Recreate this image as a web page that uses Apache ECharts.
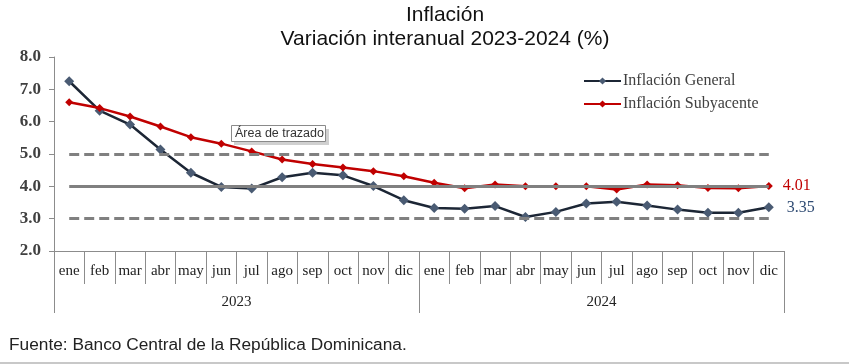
<!DOCTYPE html>
<html><head><meta charset="utf-8">
<script src="https://cdn.jsdelivr.net/npm/echarts@6/dist/echarts.min.js"></script>
<style>html,body{margin:0;padding:0;background:#fff}#c{width:849px;height:364px}</style>
</head><body><div id="c"></div>
<script>
var months = ['ene','feb','mar','abr','may','jun','jul','ago','sep','oct','nov','dic','ene','feb','mar','abr','may','jun','jul','ago','sep','oct','nov','dic'];
var years = ['2023','2024'];
var general = [7.25,6.34,5.91,5.14,4.42,3.98,3.93,4.28,4.42,4.34,4.01,3.57,3.33,3.31,3.39,3.05,3.21,3.47,3.52,3.41,3.28,3.18,3.18,3.35];
var subyacente = [6.60,6.42,6.16,5.85,5.52,5.32,5.08,4.83,4.69,4.58,4.47,4.31,4.11,3.94,4.06,4.00,4.00,4.00,3.90,4.06,4.03,3.95,3.94,4.01];
var targetLow = 3.0, targetMid = 4.0, targetHigh = 5.0;
var yTicks = [2,3,4,5,6,7,8];

var serif = 'Liberation Serif';
var chart = echarts.init(document.getElementById('c'), null, {renderer:'canvas'});
var last = months.length - 1;
function refLine(v, type){
  return [{coord:[0, v], lineStyle:{type:type}}, {coord:[last, v]}];
}
chart.setOption({
  animation:false,
  title:{
    text:'Inflación\nVariación interanual 2023-2024 (%)',
    left:445, top:3, textAlign:'center', padding:0,
    textStyle:{fontFamily:'Liberation Sans', fontSize:21, fontWeight:'normal', color:'#111', lineHeight:24}
  },
  legend:{
    orient:'vertical', left:578, top:68, itemGap:7, itemWidth:37, itemHeight:9,
    data:['Inflación General','Inflación Subyacente'],
    textStyle:{fontFamily:serif, fontSize:16, color:'#404040', padding:[0,0,0,-3]}
  },
  grid:{left:54, right:65, top:57, bottom:113, containLabel:false},
  xAxis:[{
    type:'category', data:months, boundaryGap:true, position:'bottom',
    axisLine:{lineStyle:{color:'#8c8c8c', width:1}},
    axisTick:{show:true, interval:0, length:33, lineStyle:{color:'#8c8c8c'}},
    axisLabel:{interval:0, margin:13, fontFamily:serif, fontSize:15, color:'#222'}
  },{
    type:'category', data:years, boundaryGap:true, position:'bottom', offset:33,
    axisLine:{show:false},
    axisTick:{show:true, interval:0, length:29, lineStyle:{color:'#8c8c8c'}},
    axisLabel:{interval:0, margin:11, fontFamily:serif, fontSize:15, color:'#222'}
  }],
  yAxis:{
    type:'value', min:yTicks[0], max:yTicks[yTicks.length-1], interval:1,
    axisLine:{show:true, lineStyle:{color:'#8c8c8c'}},
    axisTick:{show:true, length:5, lineStyle:{color:'#8c8c8c'}},
    splitLine:{show:false},
    axisLabel:{margin:13, fontFamily:serif, fontWeight:'bold', fontSize:17, color:'#404040',
      formatter:function(v){return v.toFixed(1);}}
  },
  series:[{
    name:'ref', type:'line', data:[], z:1, silent:true,
    markLine:{
      silent:true, symbol:'none', label:{show:false},
      lineStyle:{color:'#808080', width:3},
      data:[refLine(targetHigh,[10,5]), refLine(targetMid,'solid'), refLine(targetLow,[10,5])]
    }
  },{
    name:'Inflación General', type:'line', data:general, z:3,
    symbol:'diamond', symbolSize:10,
    lineStyle:{color:'#1c2635', width:2.5},
    itemStyle:{color:'#4a5b73', borderWidth:0},
    endLabel:{show:true, distance:18, fontFamily:serif, fontSize:16, color:'#2f4b73',
      formatter:function(p){return p.value.toFixed(2);}}
  },{
    name:'Inflación Subyacente', type:'line', data:subyacente, z:4,
    symbol:'diamond', symbolSize:8,
    lineStyle:{color:'#c00000', width:2.5},
    itemStyle:{color:'#c00000', borderWidth:0},
    endLabel:{show:true, distance:14, fontFamily:serif, fontSize:16, color:'#c00000',
      formatter:function(p){return p.value.toFixed(2);}}
  }],
  graphic:[
    {type:'rect', shape:{x:234, y:129, width:95, height:16}, style:{fill:'#d0d0d0'}, z:100},
    {type:'rect', shape:{x:231.5, y:125.5, width:94, height:16}, style:{fill:'#fff', stroke:'#8a8a8a', lineWidth:1}, z:101},
    {type:'text', left:235, top:127, style:{text:'Área de trazado', font:'12.5px "Liberation Sans"', fill:'#333'}, z:102},
    {type:'text', left:9, top:337, style:{text:'Fuente: Banco Central de la República Dominicana.', font:'17.3px "Liberation Sans"', fill:'#222'}},
    {type:'rect', shape:{x:0, y:362, width:849, height:2}, style:{fill:'#c8c8c8'}}
  ]
});
</script></body></html>
